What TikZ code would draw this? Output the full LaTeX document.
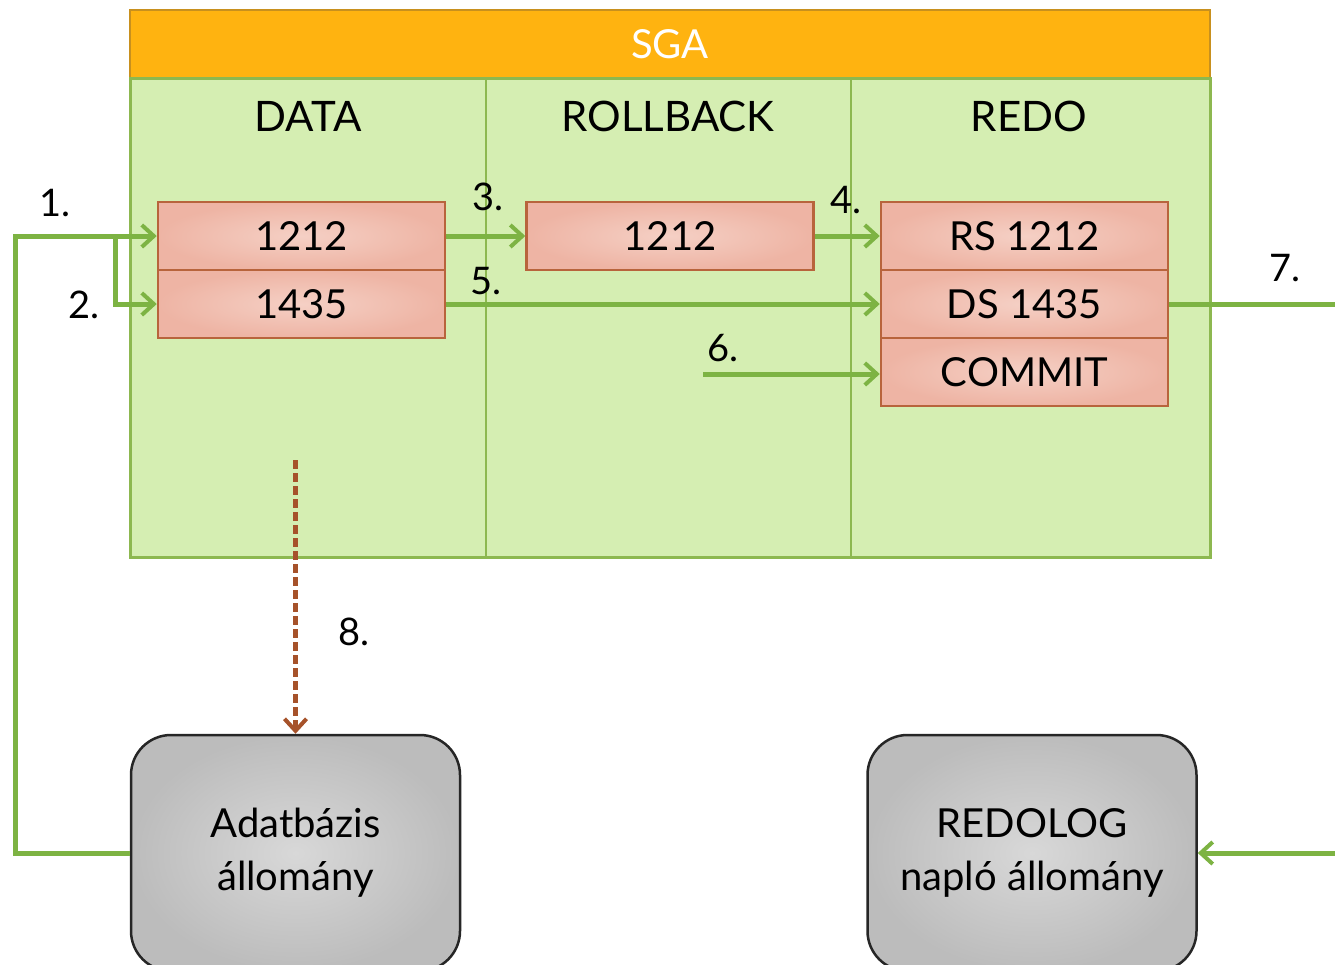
\documentclass[tikz,border=0pt]{standalone}
\usepackage{fontspec}
\setmainfont{Lato}
\usetikzlibrary{arrows.meta}
\definecolor{sgaor}{HTML}{FFB310}
\definecolor{sgaorD}{HTML}{C8901E}
\definecolor{sgagr}{HTML}{D5EEB2}
\definecolor{sgagrD}{HTML}{8DB850}
\definecolor{arrgr}{HTML}{7DB343}
\definecolor{pinkC}{HTML}{F5D0C5}
\definecolor{pinkE}{HTML}{EEB4A4}
\definecolor{pinkD}{HTML}{B8643C}
\definecolor{grayC}{HTML}{D8D8D8}
\definecolor{grayE}{HTML}{BCBCBC}
\definecolor{brn}{HTML}{A6522A}
\begin{document}
\begin{tikzpicture}[x=1pt,y=-1pt,
  big/.style={font=\fontsize{42}{50}\selectfont, inner sep=0pt},
  lab/.style={font=\fontsize{38}{46}\selectfont, inner sep=0pt},
  colbox/.style={draw=sgagrD, line width=2pt, fill=sgagr, minimum height=479pt, inner sep=0pt},
  recbox/.style={draw=pinkD, line width=2.5pt, inner color=pinkC, outer color=pinkE,
     minimum width=287pt, minimum height=68pt, inner sep=0pt, font=\fontsize{40}{48}\selectfont},
  filebox/.style={draw=black!85, line width=2.5pt, rounded corners=40pt, inner color=grayC, outer color=grayE,
     minimum width=329pt, minimum height=236pt, inner sep=0pt, align=center,
     font=\fontsize{40}{53}\selectfont},
  tipg/.style={-{Straight Barb[length=12pt,width=22pt,line width=4pt]}},
  gline/.style={draw=arrgr, line width=5pt},
  garr/.style={gline, tipg},
  brarr/.style={draw=brn, line width=5pt, dash pattern=on 9pt off 4pt,
     -{Straight Barb[length=12pt,width=22pt,line width=4pt]}}
]
\useasboundingbox (0,0) rectangle (1335,964);
\clip (0,0) rectangle (1335,964);

% SGA frame
\node[colbox, minimum width=356pt] (c1) at (308,317.5) {};
\node[colbox, minimum width=365pt] (c2) at (668.5,317.5) {};
\node[colbox, minimum width=359pt] (c3) at (1030.5,317.5) {};
\node[draw=sgaorD, line width=2pt, fill=sgaor, minimum width=1080pt, minimum height=68pt, inner sep=0pt,
      text=white, font=\fontsize{40}{48}\selectfont] (sga) at (670,44) {SGA};
\draw[sgagrD, line width=3pt] (130,78) rectangle (1210,557);

\node[big] (h1) at (308,116) {DATA};
\node[big] (h2) at (668,116) {ROLLBACK};
\node[big] (h3) at (1029,116) {REDO};

% record boxes
\node[recbox] (d1) at (301.5,236) {1212};
\node[recbox] (d2) at (301.5,304) {1435};
\node[recbox] (rb) at (670,236) {1212};
\node[recbox] (r1) at (1024.5,236) {RS 1212};
\node[recbox] (r2) at (1024.5,304) {DS 1435};
\node[recbox] (r3) at (1024.5,372) {COMMIT};

% files
\node[filebox] (db) at (295.5,853) {Adatbázis\\állomány};
\node[filebox] (rl) at (1032,853) {REDOLOG\\napló állomány};

% helper coordinates
\coordinate (lx) at (15,0);
\coordinate (bx) at (115,0);
\coordinate (s6) at (703,374);
\coordinate (ex) at (1345,0);
\coordinate (s8) at (295.5,460);

% connectors
\draw[garr] (db.west) -- (db.west -| lx) |- (d1.west);
\draw[garr] (d1.west -| bx) |- (d2.west);
\draw[garr] (d1.east) -- (rb.west);
\draw[garr] (rb.east) -- (r1.west);
\draw[garr] (d2.east) -- (r2.west);
\draw[garr] (s6) -- (s6 -| r3.west);
\draw[gline] (r2.east) -- (r2.east -| ex);
\draw[garr] (rl.east -| ex) -- (rl.east);
\draw[brarr] (s8) -- (db.north);

% step labels
\node[lab] (l1) at (55,203) {1.};
\node[lab] (l2) at (84,305) {2.};
\node[lab] (l3) at (488,197) {3.};
\node[lab] (l4) at (846,200) {4.};
\node[lab] (l5) at (486,281) {5.};
\node[lab] (l6) at (723,348) {6.};
\node[lab] (l7) at (1285,268) {7.};
\node[lab] (l8) at (354,632) {8.};
\end{tikzpicture}
\end{document}
